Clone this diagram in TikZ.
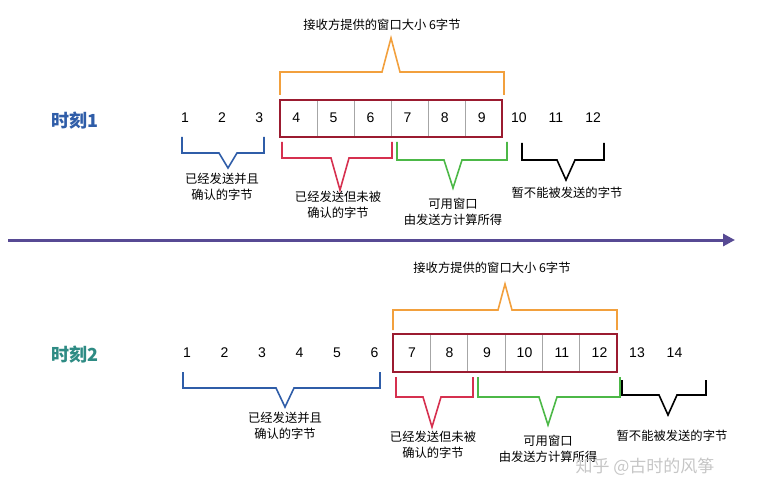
\documentclass[tikz,border=0pt]{standalone}
\usepackage{fontspec}
\setmainfont{Liberation Sans}
\newfontfamily\cjk{Noto Sans CJK SC}
\usetikzlibrary{arrows.meta}
\definecolor{bbl}{HTML}{2F5DA8}
\definecolor{brd}{HTML}{D6304F}
\definecolor{bgr}{HTML}{4CB847}
\definecolor{bor}{HTML}{F2A03D}
\definecolor{box}{HTML}{9B1B30}
\definecolor{arr}{HTML}{574A94}
\definecolor{tea}{HTML}{2E8B84}
\newcommand{\brak}[7]{\draw[brk,#1] (#2,#5) -- (#2,#6) -- (#4-9,#6) -- (#4,#7) -- (#4+9,#6) -- (#3,#6) -- (#3,#5);}
\tikzset{
 brk/.style={line width=1.6pt, line join=miter},
 num/.style={font=\fontsize{14}{14}\selectfont, inner sep=0pt},
 lab/.style={font=\cjk\fontsize{12.3}{16}\selectfont, align=center, inner sep=0pt},
 ttl/.style={font=\cjk\bfseries\fontsize{18}{18}\selectfont, inner sep=0pt},
 cell/.style={draw=gray!70, line width=0.6pt}
}
\begin{document}
\begin{tikzpicture}[x=1pt,y=-1pt]
\useasboundingbox (0,0) rectangle (776,500);
% ---- moment 1
\node[ttl,text=bbl] (t1) at (75,121) {时刻1};
\foreach \n [count=\i from 0] in {1,...,12} \node[num] (a\n) at (185+37.1*\i,118) {\n};
\foreach \k in {1,...,5} \draw[cell] (280+37*\k,100) -- (280+37*\k,137);
\draw[box,line width=2.4pt] (280,100) rectangle (502,137);
\node[lab] (o1) at (382,25) {接收方提供的窗口大小 6字节};
\draw[brk,bor] (280,95) -- (280,72) -- (382,72) -- (391,38) -- (400,72) -- (504,72) -- (504,95);
\brak{bbl}{182}{264}{228}{137}{153}{168}
\node[lab] (l1) at (222,187) {已经发送并且\\确认的字节};
\brak{brd}{282}{392}{340}{142}{158}{190}
\node[lab] (l2) at (338,205) {已经发送但未被\\确认的字节};
\brak{bgr}{397}{507}{453}{142}{160}{188}
\node[lab] (l3) at (453,212) {可用窗口\\由发送方计算所得};
\brak{black}{522}{604}{566}{143}{160}{180}
\node[lab] (l4) at (567,193) {暂不能被发送的字节};
% ---- timeline
\coordinate (s) at (8,240); \coordinate (e) at (735,240);
\draw[arr,line width=3pt,-{Triangle[length=12pt,width=12pt]}] (s) -- (e);
% ---- moment 2
\node[ttl,text=tea] (t2) at (75,355) {时刻2};
\foreach \n [count=\i from 0] in {1,...,14} \node[num] (b\n) at (187+37.5*\i,353) {\n};
\foreach \k in {1,...,5} \draw[cell] (393+37.3*\k,334) -- (393+37.3*\k,372);
\draw[box,line width=2.4pt] (393,334) rectangle (617,372);
\node[lab] (o2) at (492,268) {接收方提供的窗口大小 6字节};
\draw[brk,bor] (393,330) -- (393,310) -- (498,310) -- (505,284) -- (512,310) -- (617,310) -- (617,330);
\brak{bbl}{183}{380}{285}{372}{388}{407}
\node[lab] (m1) at (285,426) {已经发送并且\\确认的字节};
\brak{brd}{396}{473}{432}{377}{397}{427}
\node[lab] (m2) at (433,445) {已经发送但未被\\确认的字节};
\brak{bgr}{478}{620}{548}{377}{397}{425}
\node[lab] (m3) at (548,449) {可用窗口\\由发送方计算所得};
\brak{black}{622}{706}{668}{380}{395}{415}
\node[lab] (m4) at (672,436) {暂不能被发送的字节};
\node[font=\cjk\fontsize{17}{17}\selectfont, text=gray!45, inner sep=0pt] (wm) at (645,467) {知乎 @古时的风筝};
\end{tikzpicture}
\end{document}
